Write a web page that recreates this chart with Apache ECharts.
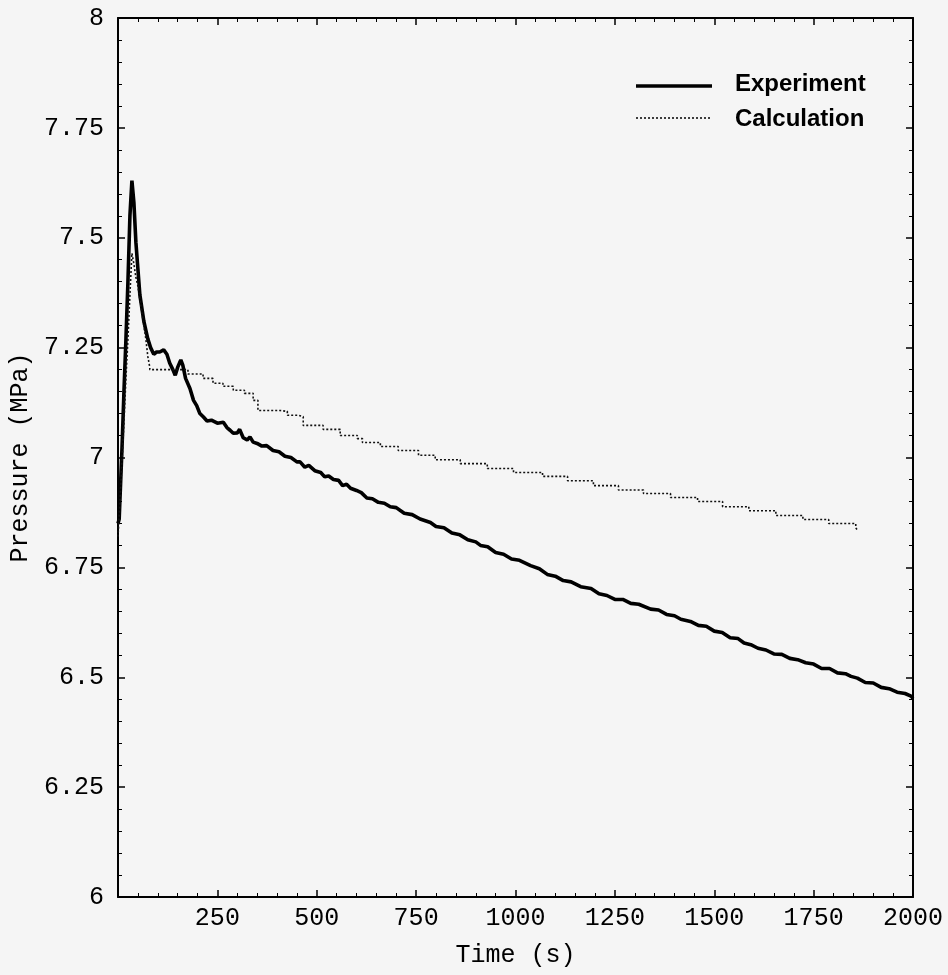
<!DOCTYPE html>
<html>
<head>
<meta charset="utf-8">
<script src="https://cdn.jsdelivr.net/npm/echarts@6/dist/echarts.min.js"></script>
<style>
html,body{margin:0;padding:0;background:#f5f5f5;}
#chart{width:948px;height:975px;}
</style>
</head>
<body>
<div id="chart"></div>
<script>
// ---- Data ----
var seriesNames = ['Experiment', 'Calculation'];
var xTicks = [250, 500, 750, 1000, 1250, 1500, 1750, 2000];
var yTicks = [6, 6.25, 6.5, 6.75, 7, 7.25, 7.5, 7.75, 8];

var expTime = [0,3,10,15,20,25,30,35,40,45,50,55,60,65,70,75,82,90,97,105,115,123,130,138,144,150,158,163,170,181,190,198,206,215,224,235,250,265,274,282,290,300,306,315,325,332,340,350,362,374,390,405,420,435,450,458,470,480,495,510,520,530,542,555,565,575,585,600,612,626,640,655,670,685,700,720,740,760,786,800,820,840,860,880,900,912,930,950,970,990,1010,1038,1060,1080,1100,1120,1140,1164,1190,1210,1230,1250,1270,1290,1310,1340,1360,1380,1400,1416,1440,1460,1480,1500,1520,1540,1560,1575,1592,1610,1630,1650,1670,1690,1710,1730,1750,1770,1790,1810,1830,1844,1860,1880,1900,1920,1940,1960,1980,1995,2000];
var expPressure = [6.85,6.86,7.02,7.15,7.27,7.40,7.55,7.63,7.58,7.49,7.43,7.37,7.34,7.31,7.29,7.27,7.25,7.235,7.24,7.24,7.245,7.235,7.215,7.20,7.187,7.205,7.222,7.21,7.18,7.157,7.13,7.118,7.10,7.092,7.083,7.085,7.078,7.08,7.068,7.062,7.055,7.056,7.064,7.045,7.04,7.047,7.035,7.032,7.026,7.027,7.016,7.013,7.003,7.0,6.99,6.99,6.978,6.982,6.97,6.966,6.956,6.958,6.95,6.948,6.936,6.939,6.93,6.925,6.92,6.908,6.906,6.898,6.896,6.888,6.886,6.873,6.87,6.86,6.852,6.843,6.84,6.828,6.824,6.813,6.808,6.80,6.797,6.784,6.78,6.769,6.766,6.754,6.747,6.734,6.73,6.72,6.717,6.706,6.702,6.69,6.686,6.677,6.677,6.668,6.666,6.655,6.653,6.643,6.64,6.632,6.627,6.618,6.616,6.605,6.602,6.59,6.588,6.578,6.574,6.566,6.562,6.553,6.552,6.543,6.54,6.533,6.53,6.52,6.52,6.51,6.508,6.502,6.498,6.488,6.487,6.477,6.474,6.466,6.463,6.457,6.452];

// Calculation: continuous rise/fall, then a staircase
var calcRiseTime = [0,5,10,15,20,25,30,35,40,45,50,55,60,65,70,75,80];
var calcRiseValue = [6.82,6.9,6.99,7.08,7.18,7.27,7.37,7.465,7.44,7.41,7.39,7.36,7.33,7.30,7.27,7.23,7.205];
var calcStepTime = [80,176,214,239,264,290,318,340,352,408,426,453,466,516,559,602,615,660,705,756,798,861,929,995,1068,1131,1196,1259,1322,1390,1458,1521,1587,1655,1723,1788,1856];
var calcStepValue = [7.20,7.19,7.18,7.169,7.162,7.153,7.146,7.13,7.107,7.105,7.096,7.093,7.073,7.064,7.05,7.043,7.034,7.025,7.016,7.005,6.995,6.986,6.975,6.966,6.957,6.947,6.936,6.926,6.918,6.909,6.90,6.888,6.879,6.868,6.859,6.85,6.84];
var calcEndTime = 1860;
var calcEndValue = 6.835;

// ---- Build series data ----
var expData = expTime.map(function (t, i) { return [t, expPressure[i]]; });
var calcData = calcRiseTime.map(function (t, i) { return [t, calcRiseValue[i]]; });
for (var i = 0; i < calcStepTime.length; i++) {
  if (i > 0) calcData.push([calcStepTime[i], calcStepValue[i - 1]]);
  calcData.push([calcStepTime[i], calcStepValue[i]]);
}
calcData.push([calcEndTime, calcStepValue[calcStepValue.length - 1]]);
calcData.push([calcEndTime, calcEndValue]);

var mono = 'Liberation Mono, DejaVu Sans Mono, monospace';
var axisLineStyle = { color: '#000', width: 2 };
var expLine = { color: '#000', width: 3.6 };
var calcLine = { color: '#111', width: 1.6, type: [2, 2] };
var legendFont = 'bold 24px "Liberation Sans", Arial, sans-serif';

function xAx(pos, showLabels) {
  return {
    type: 'value', position: pos, min: 0, max: 2000, interval: 250,
    axisLine: { show: true, onZero: false, lineStyle: axisLineStyle },
    axisTick: { show: true, inside: true, length: 7, lineStyle: { color: '#000', width: 1.5 } },
    minorTick: { show: true, splitNumber: 5, length: 4, lineStyle: { color: '#000', width: 1 } },
    splitLine: { show: false },
    axisLabel: {
      show: showLabels, showMinLabel: false, margin: 9,
      color: '#000', fontFamily: mono, fontSize: 25,
      formatter: function (v) { return xTicks.indexOf(v) >= 0 ? String(v) : ''; }
    },
    name: showLabels ? 'Time (s)' : '',
    nameLocation: 'middle', nameGap: 46,
    nameTextStyle: { color: '#000', fontFamily: mono, fontSize: 25 }
  };
}
function yAx(pos, showLabels) {
  return {
    type: 'value', position: pos, min: 6, max: 8, interval: 0.25,
    axisLine: { show: true, onZero: false, lineStyle: axisLineStyle },
    axisTick: { show: true, inside: true, length: 7, lineStyle: { color: '#000', width: 1.5 } },
    minorTick: { show: true, splitNumber: 5, length: 4, lineStyle: { color: '#000', width: 1 } },
    splitLine: { show: false },
    axisLabel: {
      show: showLabels, margin: 14,
      color: '#000', fontFamily: mono, fontSize: 25,
      formatter: function (v) { return yTicks.indexOf(v) >= 0 ? String(v) : ''; }
    },
    name: showLabels ? 'Pressure (MPa)' : '',
    nameLocation: 'middle', nameGap: 81,
    nameTextStyle: { color: '#000', fontFamily: mono, fontSize: 25 }
  };
}

var chart = echarts.init(document.getElementById('chart'), null, { renderer: 'canvas' });
chart.setOption({
  backgroundColor: '#f5f5f5',
  animation: false,
  grid: { left: 118, right: 35, top: 18, bottom: 78 },
  xAxis: [xAx('bottom', true), xAx('top', false)],
  yAxis: [yAx('left', true), yAx('right', false)],
  graphic: [
    { type: 'line', shape: { x1: 636, y1: 86, x2: 712, y2: 86 }, style: { stroke: expLine.color, lineWidth: expLine.width } },
    { type: 'text', left: 735, top: 72, style: { text: seriesNames[0], font: legendFont, fill: '#000' } },
    { type: 'line', shape: { x1: 636, y1: 118, x2: 712, y2: 118 }, style: { stroke: calcLine.color, lineWidth: calcLine.width, lineDash: calcLine.type } },
    { type: 'text', left: 735, top: 107, style: { text: seriesNames[1], font: legendFont, fill: '#000' } }
  ],
  series: [
    {
      name: seriesNames[0], type: 'line', xAxisIndex: 0, yAxisIndex: 0,
      data: expData, symbol: 'none', showSymbol: false,
      lineStyle: expLine, itemStyle: { color: '#000' }
    },
    {
      name: seriesNames[1], type: 'line', xAxisIndex: 0, yAxisIndex: 0,
      data: calcData, symbol: 'none', showSymbol: false,
      lineStyle: calcLine, itemStyle: { color: '#000' }
    }
  ]
});
</script>
</body>
</html>
